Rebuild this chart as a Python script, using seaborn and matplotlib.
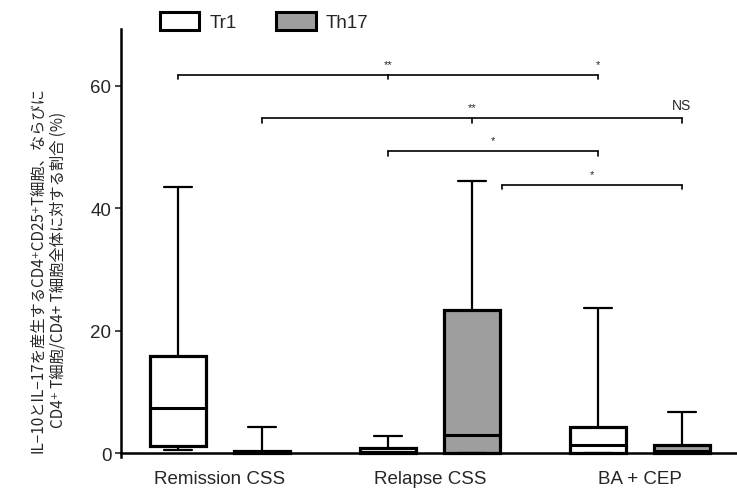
import numpy as np
import pandas as pd
import matplotlib
matplotlib.use("Agg")
import matplotlib.pyplot as plt
from matplotlib.patches import Patch
import seaborn as sns

# five-number summaries (min, Q1, median, Q3, max), %
groups = ["Remission CSS", "Relapse CSS", "BA + CEP"]
cells = ["Tr1", "Th17"]
remission_tr1 = [0.5, 1.1, 7.4, 15.8, 43.5]
remission_th17 = [0.0, 0.0, 0.1, 0.3, 4.2]
relapse_tr1 = [0.0, 0.0, 0.2, 0.8, 2.8]
relapse_th17 = [0.0, 0.0, 2.9, 23.4, 44.5]
ba_cep_tr1 = [0.0, 0.0, 1.3, 4.2, 23.7]
ba_cep_th17 = [0.0, 0.0, 0.4, 1.3, 6.7]

# significance brackets: (x points as (group, cell) pairs, height, labels)
brackets = [
    ([(0, 0), (1, 0), (2, 0)], 61.8, ["**", "*"]),
    ([(0, 1), (1, 1), (2, 1)], 54.7, ["**", "NS"]),
    ([(1, 0), (2, 0)], 49.3, ["*"]),
    ([(1, 1), (2, 1)], 43.8, ["*"]),
]

series = {
    ("Remission CSS", "Tr1"): remission_tr1,
    ("Remission CSS", "Th17"): remission_th17,
    ("Relapse CSS", "Tr1"): relapse_tr1,
    ("Relapse CSS", "Th17"): relapse_th17,
    ("BA + CEP", "Tr1"): ba_cep_tr1,
    ("BA + CEP", "Th17"): ba_cep_th17,
}
rows = []
for (g, c), vals in series.items():
    for v in vals:
        rows.append({"group": g, "cell": c, "value": v})
df = pd.DataFrame(rows)

sns.set_style("white")
plt.rcParams["font.family"] = ["Liberation Sans", "DejaVu Sans"]

fig = plt.figure(figsize=(7.37, 4.89), dpi=100)
ax = fig.add_axes([121 / 737, (489 - 457.7) / 489, 1 - 121 / 737, (457.7 - 30) / 489])

palette = {"Tr1": "white", "Th17": "#9e9e9e"}
sns.boxplot(data=df, x="group", y="value", hue="cell", order=groups,
            hue_order=cells, palette=palette, whis=(0, 100), gap=0.34,
            width=0.8, linecolor="black", linewidth=1.6, fliersize=0,
            medianprops={"linewidth": 2.2},
            legend=False, ax=ax)

for p in ax.patches:
    p.set_linewidth(2.3)
    p.set_clip_on(False)
for ln in ax.lines:
    ln.set_clip_on(False)

ax.set_xlim(-0.471, 2.462)
ax.set_ylim(-0.6, 69.3)
ax.spines["bottom"].set_position(("data", 0))
ax.spines["top"].set_visible(False)
ax.spines["right"].set_visible(False)
for s in ["left", "bottom"]:
    ax.spines[s].set_color("black")
    ax.spines[s].set_linewidth(1.8)
ax.set_yticks([0, 20, 40, 60])
ax.tick_params(axis="y", left=True, length=4, width=1.2, labelsize=13.5, pad=3)
ax.tick_params(axis="x", bottom=False, labelsize=13.5, pad=9)
ax.set_xlabel("")
ax.set_ylabel("")


def xpos(g, c):
    return g + (-0.2 if c == 0 else 0.2)


tick = 0.7
for pts, h, labels in brackets:
    xs = [xpos(g, c) for g, c in pts]
    x0 = xs[0]
    if h < 45:
        x0 = 1.343
    ax.plot([x0, xs[-1]], [h, h], color="black", lw=1.2, clip_on=False)
    ax.plot([x0, x0], [h, h - tick], color="black", lw=1.2)
    for x in xs[1:]:
        ax.plot([x, x], [h, h - tick], color="black", lw=1.2)
    if len(labels) == 2:
        for x, lab in zip(xs[1:], labels):
            fs = 10 if lab == "NS" else 8
            ax.text(x, h + 1.0, lab, ha="center", va="bottom", fontsize=fs)
    else:
        ax.text((x0 + xs[-1]) / 2, h + 1.0, labels[0], ha="center",
                va="bottom", fontsize=8)

handles = [Patch(facecolor=palette[c], edgecolor="black", linewidth=2.2) for c in cells]
ax.legend(handles, cells, loc="upper left", bbox_to_anchor=(143 / 737, 1 + 4 / 489),
          bbox_transform=fig.transFigure, ncol=2, frameon=False, fontsize=13.5,
          handlelength=2.1, handleheight=1.1, handletextpad=0.55,
          columnspacing=2.1)

fig.text(48 / 737, (489 - 270) / 489,
         "IL\u221210とIL\u221217を産生するCD4\u207aCD25\u207aT細胞、ならびに\n"
         "CD4\u207a T細胞/CD4+ T細胞全体に対する割合 (%)",
         rotation=90, ha="center", va="center", multialignment="center",
         fontsize=11, family=["Noto Sans CJK JP", "DejaVu Sans"],
         linespacing=1.35)

fig.savefig("out.png", dpi=100)
